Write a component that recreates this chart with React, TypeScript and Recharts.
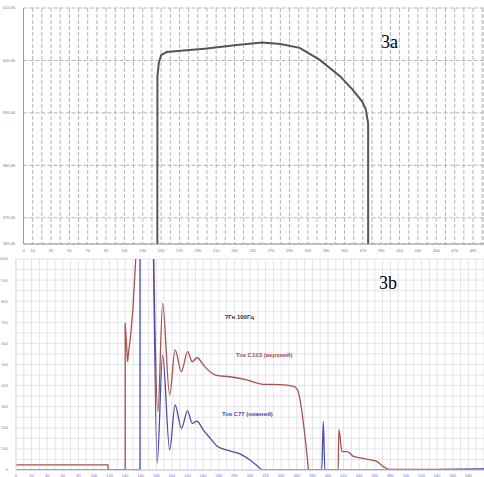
import { CartesianGrid, Line, LineChart, XAxis, YAxis } from "recharts";

// 3a: envelope of the top curve (seconds vs value)
const topCurve = [
  { t: 145.9, v: 365000 },
  { t: 146.0, v: 397000 },
  { t: 147.5, v: 399500 },
  { t: 150, v: 401000 },
  { t: 156, v: 401600 },
  { t: 200, v: 402300 },
  { t: 230, v: 402900 },
  { t: 260, v: 403400 },
  { t: 280, v: 403150 },
  { t: 301, v: 402400 },
  { t: 323, v: 400100 },
  { t: 345, v: 397000 },
  { t: 359, v: 394400 },
  { t: 369, v: 392200 },
  { t: 373, v: 390800 },
  { t: 375.7, v: 388000 },
  { t: 375.7, v: 365000 },
];
const topYTicks = [365000, 370000, 380000, 390000, 400000, 410000];
const topXLabels = [0, 10, 30, 50, 70, 90, 110, 130, 150, 170, 190, 210, 230, 250, 270, 290, 310, 330, 350, 370, 390, 410, 430, 450, 470, 490];

// 3b: currents, split where the trace jumps vertically
const upperStart = [
  { t: 0, v: 24 }, { t: 118, v: 24 }, { t: 118, v: 0 }, { t: 140, v: 0 },
  { t: 140, v: 697 }, { t: 143, v: 513 }, { t: 147, v: 640 }, { t: 150, v: 768 },
  { t: 155, v: 1100 }, { t: 176, v: 1100 },
];
const upperWave = [
  { t: 176, v: 1100 }, { t: 182, v: 276 }, { t: 188, v: 790 }, { t: 197, v: 355 },
  { t: 204, v: 569 }, { t: 212, v: 466 }, { t: 220, v: 561 }, { t: 226, v: 513 },
  { t: 232, v: 532 }, { t: 242, v: 490 }, { t: 250, v: 462 }, { t: 257, v: 448 },
  { t: 274, v: 442 }, { t: 296, v: 427 }, { t: 317, v: 406 }, { t: 338, v: 405 },
  { t: 356, v: 396 }, { t: 361, v: 379 }, { t: 375, v: 0 },
];
const upperTail = [
  { t: 375, v: 0 }, { t: 413, v: 0 }, { t: 414, v: 193 }, { t: 418, v: 87 },
  { t: 424, v: 87 }, { t: 428, v: 80 }, { t: 432, v: 66 }, { t: 445, v: 55 },
  { t: 456, v: 47 }, { t: 463, v: 40 }, { t: 471, v: 16 }, { t: 479, v: 3 },
  { t: 600, v: 3 },
];
const lowerStart = [
  { t: 0, v: 0 }, { t: 159, v: 0 }, { t: 159, v: 1100 }, { t: 176, v: 1100 },
];
const lowerWave = [
  { t: 176, v: 1100 }, { t: 181, v: 33 }, { t: 188, v: 545 }, { t: 197, v: 95 },
  { t: 204, v: 308 }, { t: 212, v: 197 }, { t: 220, v: 280 }, { t: 226, v: 221 },
  { t: 232, v: 232 }, { t: 240, v: 190 }, { t: 249, v: 150 }, { t: 259, v: 110 },
  { t: 274, v: 91 }, { t: 287, v: 76 }, { t: 300, v: 47 }, { t: 315, v: 0 },
];
const lowerTail = [
  { t: 315, v: 0 }, { t: 392, v: 0 }, { t: 394, v: 229 }, { t: 396, v: 0 },
  { t: 470, v: 0 }, { t: 600, v: 5 },
];

const every = (to: number, step: number) =>
  Array.from({ length: Math.floor(to / step) + 1 }, (_, i) => i * step);

const tiny = { fontSize: 4, fontFamily: "Liberation Sans, Arial, sans-serif" };
const RED = "#a5534e";
const BLUE = "#4d4da6";

function trace(data: { t: number; v: number }[], color: string, type: "linear" | "monotone") {
  return (
    <Line
      data={data}
      dataKey="v"
      type={type}
      stroke={color}
      strokeWidth={1.3}
      dot={false}
      isAnimationActive={false}
    />
  );
}

export default function App() {
  return (
    <div style={{ position: "absolute", left: 0, top: 0, width: 484, height: 477, background: "#fff" }}>
      <LineChart width={484} height={252} margin={{ top: 8, right: 0, bottom: 0, left: 0 }}>
        <CartesianGrid stroke="#b4b4b4" strokeDasharray="4 2" />
        <XAxis
          type="number"
          dataKey="t"
          domain={[0, 502]}
          ticks={every(500, 10)}
          interval={0}
          tickLine={false}
          axisLine={{ stroke: "#999" }}
          height={8}
          tickFormatter={(v) => (topXLabels.includes(v) ? String(v) : "")}
          tick={{ ...tiny, fill: "#777", dy: -3 }}
        />
        <YAxis
          type="number"
          domain={[365000, 410000]}
          ticks={topYTicks}
          interval={0}
          width={23.5}
          tickLine={false}
          axisLine={{ stroke: "#999" }}
          tickFormatter={(v) => `${(v / 1000).toFixed(1)}K`}
          tick={{ ...tiny, fill: "#777" }}
        />
        <Line
          data={topCurve}
          dataKey="v"
          type="linear"
          stroke="#555"
          strokeWidth={2}
          dot={false}
          isAnimationActive={false}
        />
      </LineChart>

      <div style={{ position: "absolute", left: 0, top: 255 }}>
        <LineChart width={484} height={222} margin={{ top: 4, right: 0, bottom: 0, left: 0 }}>
          <CartesianGrid stroke="#e3e3ea" />
          <XAxis
            type="number"
            dataKey="t"
            domain={[0, 600]}
            ticks={every(600, 10)}
            interval={0}
            tickLine={false}
            axisLine={{ stroke: "#c8c8d8" }}
            height={7}
            tickFormatter={(v) => (v % 20 === 0 && v < 600 ? String(v) : "")}
            tick={{ ...tiny, fill: "#7878c0", dy: -4 }}
          />
          <YAxis
            type="number"
            domain={[0, 1000]}
            allowDataOverflow
            ticks={every(1000, 50)}
            interval={0}
            width={16}
            tickLine={false}
            axisLine={{ stroke: "#ddd" }}
            tickFormatter={(v) => (v % 100 === 0 ? String(v) : "")}
            tick={{ ...tiny, fill: "#888" }}
          />
          {trace(upperStart, RED, "linear")}
          {trace(upperWave, RED, "monotone")}
          {trace(upperTail, RED, "monotone")}
          {trace(lowerStart, BLUE, "linear")}
          {trace(lowerWave, BLUE, "monotone")}
          {trace(lowerTail, BLUE, "monotone")}
        </LineChart>
      </div>

      <div style={{ position: "absolute", left: 381, top: 32, fontFamily: "Liberation Serif, serif", fontSize: 18 }}>3a</div>
      <div style={{ position: "absolute", left: 379, top: 273, fontFamily: "Liberation Serif, serif", fontSize: 18 }}>3b</div>
      <div style={{ position: "absolute", left: 225, top: 314, ...tiny, fontSize: 6, fontWeight: "bold", color: "#333" }}>7Гн 100Гц</div>
      <div style={{ position: "absolute", left: 236, top: 352, ...tiny, fontSize: 6, fontWeight: "bold", color: RED }}>Ток С123 (верхний)</div>
      <div style={{ position: "absolute", left: 222, top: 411, ...tiny, fontSize: 6, fontWeight: "bold", color: BLUE }}>Ток С77 (нижний)</div>
    </div>
  );
}
